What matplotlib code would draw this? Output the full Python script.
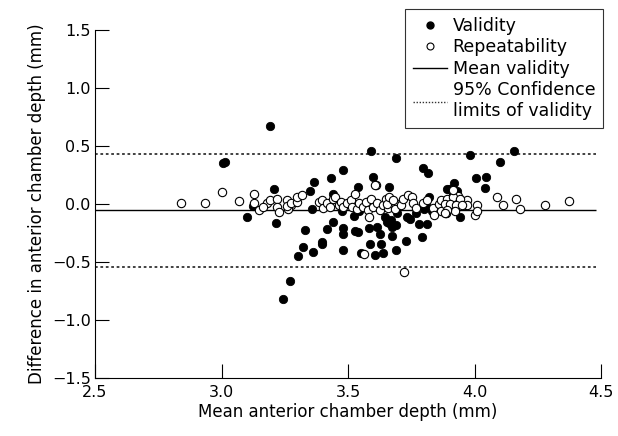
import matplotlib.pyplot as plt
from matplotlib.lines import Line2D

# validity: mean vs difference (filled points)
val_x = [3.19, 3.005, 3.014, 3.123, 3.10,
         3.591, 3.689, 3.795, 3.816, 3.479, 3.432, 3.366, 3.60, 3.541, 3.663,
         3.208, 3.35, 3.44, 3.89, 3.215, 3.329, 3.418, 3.442, 3.481, 3.479,
         3.526, 3.54, 3.582, 3.616, 3.524, 3.627, 3.661, 3.674, 3.69, 3.645,
         3.693, 3.732, 3.745, 3.769, 3.782, 3.813, 3.80, 3.811, 3.832, 3.866,
         3.821, 3.582, 3.674, 3.794, 3.396, 3.396, 3.323, 3.587, 3.629, 3.729,
         3.304, 3.363, 3.479, 3.55, 3.608, 3.64, 3.69, 3.271, 3.244,
         3.982, 4.156, 4.101, 4.006, 4.045, 4.043, 3.919, 3.90, 3.932, 3.887,
         3.943, 3.923, 3.358, 3.476, 3.545, 3.653, 3.669]
val_y = [0.672, 0.351, 0.362, -0.017, -0.11,
         0.457, 0.399, 0.313, 0.27, 0.293, 0.222, 0.19, 0.233, 0.149, 0.144,
         0.127, 0.115, 0.086, 0.127, -0.161, -0.224, -0.213, -0.155, -0.204, -0.261,
         -0.233, -0.244, -0.207, -0.196, -0.103, -0.259, -0.166, -0.196, -0.184, -0.109,
         -0.08, -0.115, -0.127, -0.08, -0.172, -0.172, -0.04, -0.023, -0.058, -0.04,
         0.058, 0.028, -0.276, -0.287, -0.325, -0.345, -0.373, -0.345, -0.345, -0.316,
         -0.448, -0.414, -0.397, -0.425, -0.44, -0.42, -0.397, -0.664, -0.822,
         0.422, 0.459, 0.365, 0.222, 0.23, 0.138, 0.178, 0.132, 0.115, -0.08,
         -0.115, -0.052, -0.046, -0.058, -0.058, -0.155, -0.138]

# repeatability (open points)
rep_x = [2.84, 2.935, 3.002, 3.069, 3.128, 3.13, 3.147, 3.179, 3.165,
         3.19, 3.218, 3.221, 3.228, 3.274, 3.263,
         3.26, 3.26, 3.276, 3.297, 3.30, 3.32,
         3.384, 3.397, 3.402, 3.418, 3.429, 3.44, 3.45, 3.463, 3.473, 3.48,
         3.495, 3.51, 3.515, 3.526, 3.534, 3.542,
         3.558, 3.57, 3.58, 3.59, 3.60, 3.61, 3.613, 3.626, 3.64, 3.65,
         3.66, 3.674, 3.685,
         3.653, 3.663, 3.679, 3.685, 3.708, 3.719, 3.737, 3.753, 3.758, 3.769,
         3.795, 3.811, 3.837, 3.858, 3.869, 3.887, 3.885, 3.908, 3.916, 3.924,
         3.935, 3.948, 3.966, 3.972,
         3.866, 3.89, 3.916, 3.943, 3.969, 3.882, 3.903, 3.927, 3.95, 3.922,
         3.89, 3.914, 4.011, 4.001, 4.011, 4.088, 4.114, 4.164, 4.18, 4.278, 4.372,
         3.563, 3.721, 3.608, 3.582, 3.84, 3.885]
rep_y = [0.006, 0.006, 0.103, 0.023, 0.089, 0.006, -0.052, 0.006, -0.023,
         0.034, 0.04, -0.023, -0.069, -0.011, -0.046,
         0.034, -0.02, 0.006, 0.017, 0.063, 0.08,
         0.017, 0.034, -0.034, 0.011, -0.028, 0.04, 0.063, -0.011, 0.017, -0.028,
         0.006, 0.034, -0.023, 0.086, -0.04, 0.006,
         -0.023, 0.017, -0.05, 0.046, -0.023, 0.166, 0.011, -0.05, -0.011, 0.04,
         -0.034, 0.011, 0.006,
         0.0, 0.058, 0.034, -0.04, -0.011, 0.04, 0.08, 0.058, 0.006, -0.034,
         0.011, 0.034, -0.034, 0.0, -0.058, -0.075, 0.006, 0.034, 0.092, -0.011,
         0.069, 0.006, -0.006, 0.034,
         0.034, 0.04, 0.058, 0.04, -0.011, 0.0, 0.0, -0.011, -0.011, -0.058,
         -0.052, 0.121, -0.011, -0.092, -0.058, 0.058, -0.011, 0.04, -0.04, -0.006, 0.023,
         -0.434, -0.586, 0.161, -0.109, -0.097, -0.08]

mean_validity = -0.052
upper_limit = 0.431
lower_limit = -0.54

x_ticks = [2.5, 3.0, 3.5, 4.0, 4.5]
y_ticks = [-1.5, -1.0, -0.5, 0.0, 0.5, 1.0, 1.5]

plt.rcParams['font.family'] = ['DejaVu Sans']
fig = plt.figure(figsize=(6.18, 4.36), dpi=100)
ax = fig.add_axes([95 / 618, 1 - 378 / 436, 506 / 618, 348 / 436])

ax.hlines(mean_validity, 2.5, 4.48, color='black', lw=1.0)
ax.hlines([upper_limit, lower_limit], 2.5, 4.48, color='#333333', lw=1.3,
          linestyles=(0, (1.5, 1.5)))

ax.scatter(val_x, val_y, s=36, c='black', edgecolors='black', linewidths=0.6, zorder=3)
ax.scatter(rep_x, rep_y, s=36, facecolors='white', edgecolors='black', linewidths=0.8, zorder=4)

ax.set_xlim(2.5, 4.5)
ax.set_ylim(-1.5, 1.5)
ax.set_xticks(x_ticks)
ax.set_xticklabels(['%.1f' % v for v in x_ticks])
ax.set_yticks(y_ticks)
ax.set_yticklabels([('%.1f' % v).replace('-', '\u2212') for v in y_ticks])
ax.tick_params(direction='in', length=10, width=0.8, labelsize=11.5, pad=3)
ax.tick_params(axis='x', pad=5)
for s in ['top', 'right']:
    ax.spines[s].set_visible(False)
for s in ['left', 'bottom']:
    ax.spines[s].set_linewidth(0.8)

ax.set_xlabel('Mean anterior chamber depth (mm)', fontsize=12, labelpad=2)
ax.set_ylabel('Difference in anterior chamber depth (mm)', fontsize=12, labelpad=4)

handles = [
    Line2D([], [], ls='none', marker='o', ms=5, mfc='black', mec='black'),
    Line2D([], [], ls='none', marker='o', ms=5, mfc='white', mec='black', mew=0.8),
    Line2D([], [], color='black', lw=1.0),
    Line2D([], [], color='#333333', lw=1.0, ls=(0, (1, 1.2))),
]
labels = ['Validity', 'Repeatability', 'Mean validity', '95% Confidence\nlimits of validity']
leg = ax.legend(handles, labels, loc='upper right', bbox_to_anchor=(603 / 618, 1 - 9 / 436),
                bbox_transform=fig.transFigure, fontsize=12.5, frameon=True, fancybox=False,
                handlelength=2.0, handletextpad=0.3, labelspacing=0.2, borderpad=0.45,
                borderaxespad=0)
leg.get_frame().set_edgecolor('black')
leg.get_frame().set_linewidth(0.8)

fig.savefig('out.png', dpi=100)
